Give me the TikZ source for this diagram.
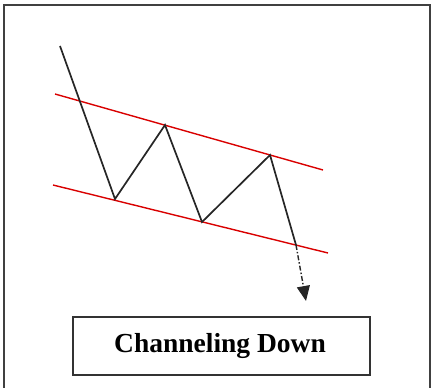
\documentclass[tikz,border=0pt]{standalone}
\usepackage{fontspec}
\setmainfont{Liberation Serif}
\usetikzlibrary{arrows.meta}
\begin{document}
\begin{tikzpicture}[x=1pt,y=-1pt,
  zig/.style={line width=1.7pt, black!85, line join=miter},
  chan/.style={line width=1.4pt, red!85!black},
  frame/.style={line width=1.2pt, black!75},
  label/.style={draw=black!80, line width=1.3pt, minimum width=297pt, minimum height=58pt, inner sep=0pt,
     font=\fontsize{27.5}{32}\selectfont\bfseries}]
\useasboundingbox (0,0) rectangle (435,387);
\draw[frame] (4,390) -- (4,5) -- (430,5) -- (430,390);
% channel lines
\coordinate (u1) at (55,94);
\coordinate (u2) at (323,170);
\coordinate (l1) at (53,185);
\coordinate (l2) at (328,253);
\draw[chan] (u1) -- (u2);
\draw[chan] (l1) -- (l2);
% zigzag
\coordinate (s) at (60,46);
\coordinate (p1) at (115,199);
\coordinate (p2) at (165,125);
\coordinate (p3) at (202,222);
\coordinate (p4) at (270,155);
\coordinate (p5) at (296,245);
\coordinate (tip) at (306,301);
\draw[zig] (s) -- (p1) -- (p2) -- (p3) -- (p4) -- (p5);
\draw[line width=1.4pt, black!85, dash pattern=on 5pt off 2pt on 1.5pt off 2pt,
  -{Triangle[length=15pt,width=13pt]}] (p5) -- (tip);
\node[label] (box) at (221.5,346) {\hspace*{-3pt}Channeling Down};
\end{tikzpicture}
\end{document}
